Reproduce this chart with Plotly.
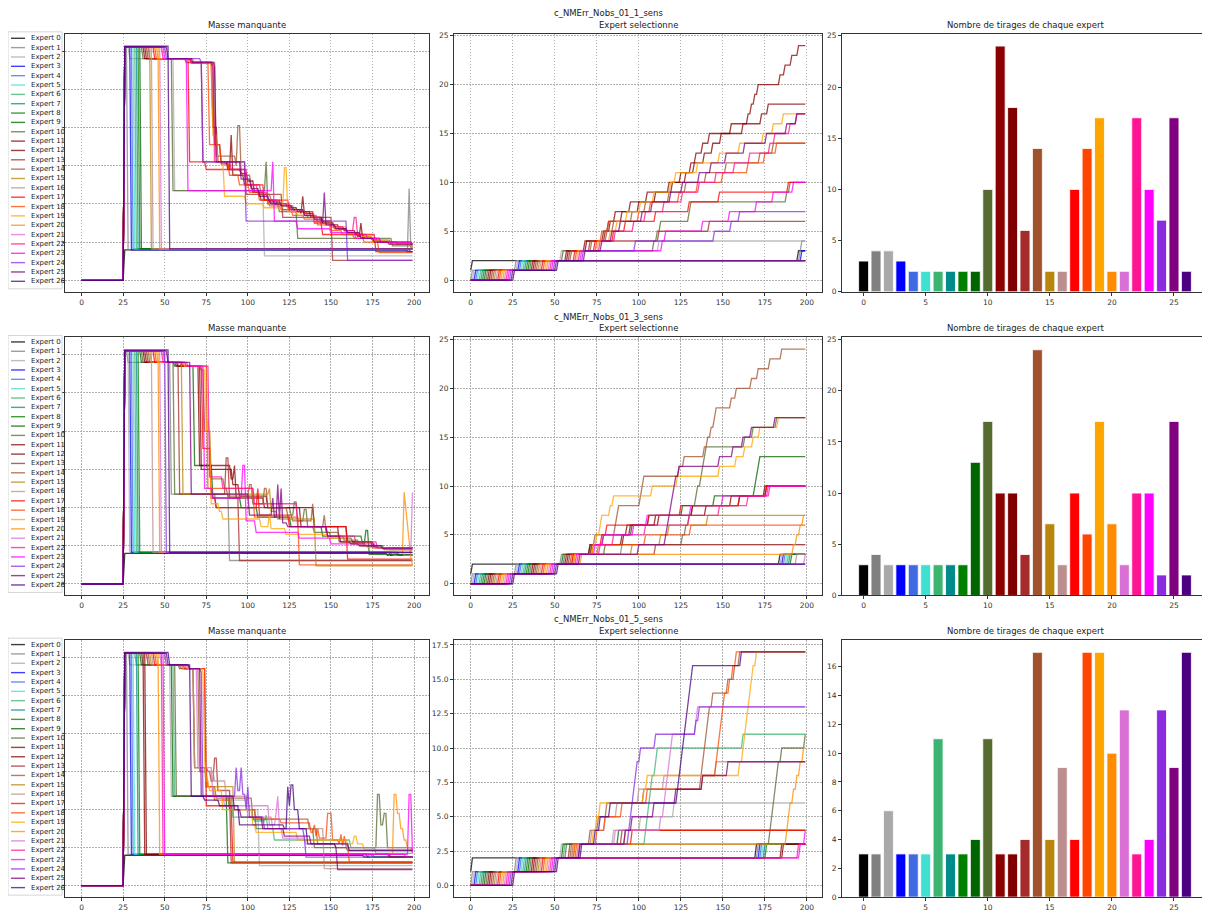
import numpy as np
import plotly.graph_objects as go

W, H = 1210, 918          # reference picture size
OFF = 8                   # page body margin of the browser
FIG_W, FIG_H = W - OFF, H - OFF
T_LAST = 199
N_EXP = 27
EXPERTS = [f"Expert {i}" for i in range(N_EXP)]
COLORS = ["#000000", "#808080", "#a9a9a9", "#0000ff", "#4169e1", "#40e0d0", "#3cb371",
          "#008b8b", "#008000", "#006400", "#556b2f", "#8b0000", "#800000", "#a52a2a",
          "#a0522d", "#b8860b", "#bc8f8f", "#ff0000", "#ff4500", "#ffa500", "#ff8c00",
          "#da70d6", "#ff1493", "#ff00ff", "#8a2be2", "#800080", "#4b0082"]
ROW_TITLES = ["c_NMErr_Nobs_01_1_sens", "c_NMErr_Nobs_01_3_sens", "c_NMErr_Nobs_01_5_sens"]
SUB_TITLES = ["Masse manquante", "Expert selectionne", "Nombre de tirages de chaque expert"]

# ---- bar chart: number of draws per expert ----
COUNTS_1 = [3, 4, 4, 3, 2, 2, 2, 2, 2, 2, 10, 24, 18, 6, 14, 2, 2, 10, 14, 17, 2, 2, 17, 10, 7, 17, 2]
COUNTS_2 = [3, 4, 3, 3, 3, 3, 3, 3, 3, 13, 17, 10, 10, 4, 24, 7, 3, 10, 6, 17, 7, 3, 10, 10, 2, 17, 2]
COUNTS_3 = [3, 3, 6, 3, 3, 3, 11, 3, 3, 4, 11, 3, 3, 4, 17, 4, 9, 4, 17, 17, 10, 13, 3, 4, 13, 9, 17]

# ---- times at which each expert was selected ----
PICKS_1 = [
    [0, 1, 195], [1, 27, 196, 197], [2, 28, 54, 112], [3, 29, 197],
    [4, 30], [5, 31], [6, 32], [7, 33], [8, 34], [9, 35],
    [10, 36, 55, 109, 111, 113, 130, 131, 188, 190],
    [11, 37, 57, 68, 79, 82, 86, 95, 105, 118, 128, 131, 134, 138, 142, 162, 165, 167, 169, 171, 184, 187, 191, 195],
    [12, 38, 58, 69, 80, 83, 90, 100, 110, 120, 125, 133, 139, 144, 149, 155, 173, 177],
    [13, 39, 59, 71, 112, 142],
    [14, 40, 60, 72, 81, 85, 96, 104, 118, 128, 140, 152, 172, 180],
    [15, 41], [16, 42],
    [17, 43, 62, 74, 85, 92, 110, 130, 148, 189],
    [18, 44, 63, 75, 78, 82, 100, 107, 124, 135, 150, 165, 175, 182],
    [19, 45, 64, 76, 83, 87, 93, 101, 109, 119, 122, 135, 148, 160, 174, 180, 186],
    [20, 46], [21, 47],
    [22, 48, 65, 77, 86, 97, 104, 115, 126, 136, 146, 157, 166, 178, 181, 190, 194],
    [23, 49, 66, 114, 116, 138, 154, 170, 180, 192],
    [24, 50, 67, 98, 145, 155, 160],
    [25, 51, 68, 78, 84, 89, 102, 108, 119, 126, 136, 143, 152, 163, 176, 188, 194],
    [26, 52],
]
PICKS_2 = [
    [0, 1, 184], [1, 27, 54, 90], [2, 28, 185], [3, 29, 186], [4, 30, 187], [5, 31, 188],
    [6, 32, 189], [7, 33, 190], [8, 34, 191],
    [9, 35, 55, 71, 79, 96, 106, 126, 145, 169, 170, 171, 172],
    [10, 36, 56, 80, 126, 128, 130, 132, 134, 135, 137, 138, 139, 140, 163, 168, 182],
    [11, 37, 57, 71, 90, 93, 110, 132, 155, 175],
    [12, 38, 58, 72, 91, 95, 112, 140, 160, 176],
    [13, 39, 59, 110],
    [14, 40, 60, 72, 74, 86, 87, 88, 101, 102, 103, 124, 127, 139, 141, 143, 145, 146, 155, 158, 167, 171, 178, 185],
    [15, 41, 61, 96, 113, 118, 141],
    [16, 42, 194],
    [17, 43, 61, 73, 78, 81, 106, 125, 160, 176],
    [18, 44, 62, 76, 104, 131],
    [19, 45, 62, 73, 75, 77, 78, 83, 85, 108, 123, 148, 158, 163, 168, 172, 183],
    [20, 46, 66, 192, 194, 196, 198],
    [21, 47, 199],
    [22, 48, 63, 77, 85, 104, 130, 148, 165, 178],
    [23, 49, 64, 74, 79, 97, 105, 131, 150, 177],
    [24, 50],
    [25, 51, 65, 100, 116, 117, 118, 119, 120, 121, 122, 124, 148, 156, 162, 167, 181],
    [26, 52],
]
PICKS_3 = [
    [0, 1, 170], [1, 27, 171], [2, 28, 54, 85, 101, 121], [3, 29, 172], [4, 30, 173], [5, 31, 174],
    [6, 32, 56, 104, 105, 106, 107, 108, 110, 111, 162],
    [7, 33, 175], [8, 34, 176], [9, 35, 55, 88],
    [10, 36, 57, 178, 179, 180, 181, 182, 183, 185, 199],
    [11, 37, 185], [12, 38, 186], [13, 39, 59, 90],
    [14, 40, 60, 71, 76, 81, 103, 137, 138, 139, 140, 141, 142, 144, 153, 157, 160],
    [15, 41, 61, 92],
    [16, 42, 61, 72, 80, 87, 100, 115, 146],
    [17, 43, 62, 96],
    [18, 44, 63, 75, 80, 90, 105, 138, 146, 147, 148, 149, 150, 151, 154, 156, 158],
    [19, 45, 64, 73, 75, 77, 103, 105, 160, 162, 163, 164, 165, 166, 167, 168, 170],
    [20, 46, 62, 188, 189, 190, 192, 194, 196, 198],
    [21, 47, 64, 86, 113, 115, 116, 117, 118, 119, 120, 134, 135],
    [22, 48, 195], [23, 49, 196, 199],
    [24, 50, 65, 94, 95, 96, 97, 98, 99, 101, 110, 134, 136],
    [25, 51, 65, 92, 96, 109, 122, 138, 153],
    [26, 52, 66, 74, 77, 83, 123, 124, 125, 126, 127, 128, 129, 130, 131, 132, 161],
]

# ---- missing mass: [time, value] at which each curve changes level ----
MASS_1 = [
    [[0, 0], [26, 0.16], [196, 0.15], [199, 0.15]],
    [[0, 0], [26, 1.22], [28, 0.16], [197, 0.48], [198, 0.17], [199, 0.17]],
    [[0, 0], [26, 1.22], [29, 1.16], [56, 0.47], [110, 0.128], [199, 0.128]],
    [[0, 0], [26, 1.22], [30, 0.16], [198, 0.15], [199, 0.15]],
    [[0, 0], [26, 1.22], [31, 0.165], [199, 0.165]],
    [[0, 0], [26, 1.22], [32, 0.165], [199, 0.165]],
    [[0, 0], [26, 1.22], [33, 0.165], [199, 0.165]],
    [[0, 0], [26, 1.22], [34, 0.165], [199, 0.165]],
    [[0, 0], [26, 1.22], [35, 0.165], [199, 0.165]],
    [[0, 0], [26, 1.22], [36, 0.165], [199, 0.165]],
    [[0, 0], [26, 1.22], [37, 1.16], [55, 0.47], [111, 0.62], [112, 0.4], [119, 0.36], [130, 0.22], [187, 0.18], [199, 0.18]],
    [[0, 0], [26, 1.22], [38, 1.16], [66, 1.14], [79, 1.12], [80, 0.71], [84, 0.61], [89, 0.58], [90, 0.76], [91, 0.55],
     [98, 0.5], [103, 0.46], [108, 0.42], [114, 0.4], [121, 0.37], [132, 0.35], [133, 0.44], [134, 0.35], [140, 0.33],
     [145, 0.31], [150, 0.29], [155, 0.27], [160, 0.25], [166, 0.23], [168, 0.3], [169, 0.22], [175, 0.21], [180, 0.2],
     [190, 0.19], [199, 0.19]],
    [[0, 0], [26, 1.22], [39, 1.16], [66, 1.14], [79, 0.8], [82, 0.62], [88, 0.58], [96, 0.56], [100, 0.52], [104, 0.46],
     [110, 0.42], [116, 0.4], [124, 0.38], [130, 0.36], [138, 0.33], [145, 0.3], [152, 0.28], [158, 0.26], [165, 0.24],
     [170, 0.22], [178, 0.2], [199, 0.19]],
    [[0, 0], [26, 1.22], [40, 1.16], [63, 1.14], [73, 0.62], [99, 0.45], [121, 0.33], [151, 0.105], [199, 0.105]],
    [[0, 0], [26, 1.22], [41, 1.16], [66, 1.14], [81, 0.65], [93, 0.6], [94, 0.81], [96, 0.55], [102, 0.5], [108, 0.45],
     [114, 0.42], [120, 0.39], [128, 0.36], [136, 0.33], [144, 0.3], [152, 0.27], [160, 0.25], [167, 0.23], [175, 0.21],
     [186, 0.19], [199, 0.17]],
    [[0, 0], [26, 1.22], [42, 0.165], [199, 0.165]],
    [[0, 0], [26, 1.22], [43, 0.165], [199, 0.165]],
    [[0, 0], [26, 1.22], [44, 1.16], [65, 0.62], [75, 0.58], [99, 0.5], [110, 0.42], [125, 0.36], [140, 0.3], [145, 0.24],
     [177, 0.15], [199, 0.15]],
    [[0, 0], [26, 1.22], [45, 1.16], [66, 1.14], [77, 0.71], [84, 0.62], [89, 0.55], [95, 0.5], [101, 0.46], [107, 0.42],
     [113, 0.39], [120, 0.37], [127, 0.34], [134, 0.32], [142, 0.29], [150, 0.26], [157, 0.24], [164, 0.22], [170, 0.2],
     [179, 0.145], [199, 0.145]],
    [[0, 0], [26, 1.22], [46, 1.16], [68, 1.14], [78, 1.12], [79, 0.76], [82, 0.62], [86, 0.44], [99, 0.4], [110, 0.38],
     [122, 0.59], [124, 0.36], [130, 0.34], [140, 0.31], [150, 0.28], [160, 0.25], [168, 0.23], [175, 0.21], [185, 0.19],
     [199, 0.17]],
    [[0, 0], [26, 1.22], [47, 0.165], [199, 0.165]],
    [[0, 0], [26, 1.22], [48, 0.165], [199, 0.165]],
    [[0, 0], [26, 1.22], [49, 1.16], [66, 1.14], [79, 1.12], [80, 0.62], [90, 0.58], [100, 0.5], [106, 0.46], [112, 0.42],
     [118, 0.4], [126, 0.37], [134, 0.34], [142, 0.31], [150, 0.28], [158, 0.26], [164, 0.33], [166, 0.24], [172, 0.22],
     [180, 0.2], [199, 0.185]],
    [[0, 0], [26, 1.22], [50, 1.16], [64, 0.47], [115, 0.62], [116, 0.31], [130, 0.27], [150, 0.25], [165, 0.22], [180, 0.2],
     [199, 0.19]],
    [[0, 0], [26, 1.22], [51, 1.16], [72, 1.14], [73, 0.62], [99, 0.31], [160, 0.105], [199, 0.105]],
    [[0, 0], [26, 1.22], [52, 1.16], [67, 1.14], [80, 1.12], [81, 0.62], [96, 0.53], [102, 0.48], [107, 0.44], [113, 0.41],
     [120, 0.39], [127, 0.37], [134, 0.34], [140, 0.32], [145, 0.3], [146, 0.46], [147, 0.29], [153, 0.27], [160, 0.25],
     [168, 0.22], [176, 0.2], [185, 0.19], [199, 0.185]],
    [[0, 0], [26, 1.225], [53, 0.165], [199, 0.165]],
]
MASS_2 = [
    [[0, 0], [26, 0.16], [184, 0.15], [199, 0.15]],
    [[0, 0], [26, 1.22], [28, 1.16], [54, 0.47], [89, 0.123], [199, 0.123]],
    [[0, 0], [26, 1.22], [29, 0.165], [185, 0.15], [199, 0.15]],
    [[0, 0], [26, 1.22], [30, 0.165], [186, 0.15], [199, 0.15]],
    [[0, 0], [26, 1.22], [31, 0.165], [187, 0.15], [199, 0.15]],
    [[0, 0], [26, 1.22], [32, 0.165], [188, 0.15], [199, 0.15]],
    [[0, 0], [26, 1.22], [33, 0.165], [189, 0.15], [199, 0.15]],
    [[0, 0], [26, 1.22], [34, 0.165], [190, 0.15], [199, 0.15]],
    [[0, 0], [26, 1.22], [35, 0.165], [191, 0.15], [199, 0.15]],
    [[0, 0], [26, 1.22], [36, 1.16], [56, 1.14], [68, 0.62], [79, 0.45], [96, 0.4], [106, 0.35], [126, 0.3], [145, 0.25],
     [169, 0.21], [171, 0.28], [173, 0.155], [199, 0.155]],
    [[0, 0], [26, 1.22], [37, 1.16], [56, 0.47], [81, 0.4], [126, 0.36], [128, 0.43], [130, 0.33], [134, 0.39], [136, 0.3],
     [140, 0.27], [150, 0.24], [163, 0.22], [168, 0.2], [182, 0.18], [199, 0.18]],
    [[0, 0], [26, 1.22], [38, 1.16], [57, 1.14], [71, 0.62], [90, 0.55], [92, 0.62], [93, 0.45], [110, 0.4], [132, 0.3],
     [155, 0.22], [175, 0.19], [199, 0.19]],
    [[0, 0], [26, 1.22], [39, 1.16], [58, 1.14], [72, 0.6], [91, 0.52], [95, 0.46], [112, 0.4], [140, 0.3], [160, 0.22],
     [176, 0.19], [199, 0.19]],
    [[0, 0], [26, 1.22], [40, 1.16], [59, 0.47], [87, 0.66], [89, 0.45], [95, 0.123], [199, 0.123]],
    [[0, 0], [26, 1.22], [41, 1.16], [60, 1.14], [72, 1.12], [74, 0.8], [78, 0.55], [86, 0.5], [88, 0.46], [101, 0.52],
     [103, 0.42], [110, 0.5], [112, 0.4], [124, 0.36], [127, 0.33], [139, 0.42], [140, 0.3], [146, 0.36], [147, 0.27],
     [155, 0.25], [158, 0.23], [167, 0.21], [171, 0.2], [178, 0.19], [185, 0.18], [199, 0.18]],
    [[0, 0], [26, 1.22], [42, 1.16], [61, 0.47], [113, 0.5], [114, 0.38], [118, 0.34], [141, 0.095], [199, 0.095]],
    [[0, 0], [26, 1.22], [43, 0.165], [194, 0.15], [199, 0.15]],
    [[0, 0], [26, 1.22], [44, 1.16], [61, 1.14], [73, 0.71], [78, 0.45], [81, 0.4], [106, 0.5], [107, 0.36], [125, 0.3],
     [160, 0.13], [199, 0.13]],
    [[0, 0], [26, 1.22], [45, 1.16], [62, 1.14], [76, 0.5], [104, 0.35], [131, 0.1], [199, 0.1]],
    [[0, 0], [26, 1.22], [46, 1.16], [62, 1.14], [73, 1.12], [75, 0.8], [76, 0.86], [77, 0.78], [78, 0.42], [83, 0.38],
     [85, 0.34], [108, 0.3], [113, 0.37], [114, 0.29], [123, 0.26], [148, 0.24], [158, 0.22], [163, 0.21], [168, 0.2],
     [172, 0.19], [183, 0.18], [199, 0.18]],
    [[0, 0], [26, 1.22], [47, 0.165], [194, 0.48], [195, 0.4], [196, 0.3], [197, 0.22], [198, 0.14], [199, 0.1]],
    [[0, 0], [26, 1.22], [48, 0.165], [199, 0.48]],
    [[0, 0], [26, 1.22], [49, 1.16], [63, 1.14], [77, 0.56], [85, 0.5], [104, 0.42], [130, 0.3], [148, 0.25], [165, 0.22],
     [178, 0.19], [199, 0.19]],
    [[0, 0], [26, 1.22], [50, 1.16], [64, 1.14], [74, 0.5], [79, 0.45], [97, 0.62], [99, 0.33], [105, 0.27], [131, 0.24],
     [150, 0.21], [177, 0.19], [199, 0.19]],
    [[0, 0], [26, 1.22], [51, 0.165], [199, 0.165]],
    [[0, 0], [26, 1.22], [52, 1.16], [66, 0.47], [101, 0.36], [115, 0.45], [116, 0.35], [118, 0.52], [119, 0.34], [120, 0.5],
     [121, 0.32], [124, 0.3], [148, 0.25], [156, 0.22], [162, 0.21], [167, 0.2], [181, 0.185], [199, 0.185]],
    [[0, 0], [26, 1.225], [53, 0.165], [199, 0.165]],
]
MASS_3 = [
    [[0, 0], [26, 0.16], [170, 0.15], [199, 0.15]],
    [[0, 0], [26, 1.22], [28, 0.165], [171, 0.15], [199, 0.15]],
    [[0, 0], [26, 1.22], [29, 1.16], [54, 0.47], [85, 0.45], [101, 0.4], [107, 0.105], [199, 0.105]],
    [[0, 0], [26, 1.22], [30, 0.165], [172, 0.15], [199, 0.15]],
    [[0, 0], [26, 1.22], [31, 0.165], [173, 0.15], [199, 0.15]],
    [[0, 0], [26, 1.22], [32, 0.165], [174, 0.15], [199, 0.15]],
    [[0, 0], [26, 1.22], [33, 1.16], [56, 0.47], [91, 0.36], [104, 0.34], [111, 0.37], [112, 0.3], [116, 0.24], [162, 0.2],
     [177, 0.17], [199, 0.17]],
    [[0, 0], [26, 1.22], [34, 0.165], [175, 0.15], [199, 0.15]],
    [[0, 0], [26, 1.22], [35, 0.165], [176, 0.15], [199, 0.15]],
    [[0, 0], [26, 1.22], [36, 1.16], [55, 0.47], [88, 0.12], [199, 0.12]],
    [[0, 0], [26, 1.22], [37, 1.16], [57, 0.47], [89, 0.4], [105, 0.3], [140, 0.2], [178, 0.48], [180, 0.32], [182, 0.38],
     [184, 0.2], [199, 0.18]],
    [[0, 0], [26, 1.22], [38, 0.165], [185, 0.15], [199, 0.15]],
    [[0, 0], [26, 1.22], [39, 0.165], [186, 0.15], [199, 0.15]],
    [[0, 0], [26, 1.22], [40, 1.16], [59, 1.14], [68, 0.62], [76, 0.6], [78, 0.55], [80, 0.67], [82, 0.5], [90, 0.12], [199, 0.12]],
    [[0, 0], [26, 1.22], [41, 1.16], [60, 1.14], [71, 0.6], [76, 0.52], [81, 0.46], [103, 0.35], [137, 0.3], [142, 0.22],
     [153, 0.2], [160, 0.185], [199, 0.185]],
    [[0, 0], [26, 1.22], [42, 1.16], [61, 1.14], [68, 0.62], [75, 0.52], [92, 0.12], [199, 0.12]],
    [[0, 0], [26, 1.22], [43, 1.16], [61, 1.14], [68, 0.62], [72, 0.6], [80, 0.55], [87, 0.47], [100, 0.36], [115, 0.3],
     [146, 0.09], [199, 0.09]],
    [[0, 0], [26, 1.22], [44, 1.16], [62, 1.14], [75, 0.42], [91, 0.125], [199, 0.125]],
    [[0, 0], [26, 1.22], [45, 1.16], [63, 1.14], [75, 0.52], [80, 0.45], [90, 0.4], [105, 0.35], [120, 0.33], [138, 0.28],
     [140, 0.32], [141, 0.26], [142, 0.3], [143, 0.25], [148, 0.38], [151, 0.24], [155, 0.22], [156, 0.27], [157, 0.21],
     [158, 0.26], [159, 0.21], [161, 0.125], [199, 0.125]],
    [[0, 0], [26, 1.22], [46, 1.16], [64, 1.14], [73, 1.12], [74, 0.66], [75, 0.55], [77, 0.5], [85, 0.4], [103, 0.32],
     [105, 0.28], [130, 0.24], [160, 0.22], [164, 0.26], [166, 0.22], [170, 0.19], [199, 0.185]],
    [[0, 0], [26, 1.22], [47, 0.165], [188, 0.48], [190, 0.38], [192, 0.3], [194, 0.24], [196, 0.2], [199, 0.18]],
    [[0, 0], [26, 1.22], [48, 1.16], [64, 1.14], [70, 0.62], [79, 0.47], [86, 0.42], [113, 0.32], [117, 0.38], [118, 0.47],
     [119, 0.3], [121, 0.25], [135, 0.22], [160, 0.2], [199, 0.19]],
    [[0, 0], [26, 1.22], [49, 0.165], [195, 0.15], [199, 0.15]],
    [[0, 0], [26, 1.22], [50, 0.165], [197, 0.48], [199, 0.17]],
    [[0, 0], [26, 1.22], [51, 1.16], [65, 1.14], [72, 1.12], [73, 0.47], [93, 0.62], [94, 0.5], [96, 0.62], [97, 0.48],
     [99, 0.4], [100, 0.52], [101, 0.36], [110, 0.3], [134, 0.25], [135, 0.15], [199, 0.15]],
    [[0, 0], [26, 1.22], [52, 1.16], [65, 1.14], [72, 0.47], [92, 0.4], [96, 0.36], [109, 0.3], [122, 0.26], [138, 0.22],
     [153, 0.2], [154, 0.085], [199, 0.085]],
    [[0, 0], [26, 1.225], [53, 1.16], [66, 0.47], [74, 0.45], [83, 0.42], [95, 0.32], [122, 0.3], [124, 0.52], [125, 0.42],
     [126, 0.53], [128, 0.4], [131, 0.3], [136, 0.22], [161, 0.185], [199, 0.185]],
]

MASS = [MASS_1, MASS_2, MASS_3]
PICKS = [PICKS_1, PICKS_2, PICKS_3]
COUNTS = [COUNTS_1, COUNTS_2, COUNTS_3]

# ---------------- layout geometry (pixels of the reference picture) ----------------
COL_PX = [(65, 429), (454, 822), (842, 1208)]
ROW_PX = [(32, 292), (338, 598), (643, 902)]


def px_x(p):
    return (p - OFF) / FIG_W


def px_y(p):
    return 1 - (p - OFF) / FIG_H


def step_values(bp):
    bt = np.array([p[0] for p in bp])
    bv = np.array([p[1] for p in bp], dtype=float)
    t = np.arange(T_LAST + 1)
    return t, bv[np.searchsorted(bt, t, side="right") - 1]


def pick_counts(times):
    t = np.arange(T_LAST + 1)
    return t, np.searchsorted(np.sort(np.array(times)), t, side="right")


fig = go.Figure()
FONT = "DejaVu Sans"
AX_COL = "#333333"
layout = dict(width=FIG_W, height=FIG_H, autosize=False, margin=dict(l=0, r=0, t=0, b=0),
              paper_bgcolor="white", plot_bgcolor="white", showlegend=False,
              font=dict(family=FONT, size=8, color="#222"))
annotations = []
shapes = []

for r in range(3):
    for c in range(3):
        n = r * 3 + c + 1
        xa = "x" if n == 1 else f"x{n}"
        ya = "y" if n == 1 else f"y{n}"
        if c == 0:
            for k in range(N_EXP):
                t, v = step_values(MASS[r][k])
                fig.add_trace(go.Scatter(x=t, y=v, mode="lines", xaxis=xa, yaxis=ya,
                                         line=dict(color=COLORS[k], width=1.3), opacity=0.75,
                                         name=EXPERTS[k], hoverinfo="skip"))
        elif c == 1:
            for k in range(N_EXP):
                t, v = pick_counts(PICKS[r][k])
                fig.add_trace(go.Scatter(x=t, y=v, mode="lines", xaxis=xa, yaxis=ya,
                                         line=dict(color=COLORS[k], width=1.3), opacity=0.75,
                                         name=EXPERTS[k], hoverinfo="skip"))
        else:
            fig.add_trace(go.Bar(x=list(range(N_EXP)), y=COUNTS[r], xaxis=xa, yaxis=ya,
                                 marker=dict(color=COLORS, line=dict(color="white", width=0.8)),
                                 width=0.8, hoverinfo="skip"))

        x0, x1 = COL_PX[c]
        y0, y1 = ROW_PX[r]
        common = dict(showline=True, mirror=True, linecolor=AX_COL, linewidth=0.9,
                      ticks="outside", ticklen=3, tickwidth=0.8, tickcolor=AX_COL,
                      tickfont=dict(family=FONT, size=7.5, color="#333"), zeroline=False)
        xd = dict(common, domain=[px_x(x0), px_x(x1)], anchor=ya)
        yd = dict(common, domain=[px_y(y1), px_y(y0)], anchor=xa)
        if c < 2:
            grid = dict(showgrid=True, gridcolor="#b0b0b0", griddash="1.5px,1.5px", gridwidth=0.8)
            xd.update(grid, range=[-9.95, 208.95], tickmode="array", tickvals=list(range(0, 201, 25)))
            yd.update(grid)
            if c == 0:
                yd.update(range=[-0.06, 1.29], tickmode="array",
                          tickvals=[0, 0.2, 0.4, 0.6, 0.8, 1.0, 1.2],
                          ticktext=["0.0", "0.2", "0.4", "0.6", "0.8", "1.0", "1.2"],
                          tickfont=dict(family=FONT, size=7.5, color="#666"))
            elif r < 2:
                yd.update(range=[-1.2, 25.2], tickmode="array", tickvals=list(range(0, 26, 5)))
            else:
                yd.update(range=[-0.85, 17.85], tickmode="array",
                          tickvals=[0, 2.5, 5, 7.5, 10, 12.5, 15, 17.5],
                          ticktext=["0.0", "2.5", "5.0", "7.5", "10.0", "12.5", "15.0", "17.5"])
        else:
            xd.update(showgrid=False, range=[-1.74, 27.74], tickmode="array", tickvals=list(range(0, 26, 5)))
            yd.update(showgrid=False)
            if r < 2:
                yd.update(range=[0, 25.2], tickmode="array", tickvals=list(range(0, 26, 5)))
            else:
                yd.update(range=[0, 17.85], tickmode="array", tickvals=list(range(0, 17, 2)))
        layout["xaxis" if n == 1 else f"xaxis{n}"] = xd
        layout["yaxis" if n == 1 else f"yaxis{n}"] = yd

        annotations.append(dict(text=SUB_TITLES[c], x=px_x((x0 + x1) / 2), y=px_y(y0 - 2),
                                xref="paper", yref="paper", xanchor="center", yanchor="bottom",
                                showarrow=False, font=dict(family=FONT, size=8.5, color="#222")))

    # row title
    annotations.append(dict(text=ROW_TITLES[r], x=px_x(608), y=px_y(ROW_PX[r][0] - 21),
                            xref="paper", yref="paper", xanchor="center", yanchor="middle",
                            showarrow=False, font=dict(family=FONT, size=8.5, color="#222")))

    # legend (drawn as box + samples + text)
    top = ROW_PX[r][0] - 2
    shapes.append(dict(type="rect", xref="paper", yref="paper", layer="above",
                       x0=px_x(8), x1=px_x(62), y0=px_y(top + 259), y1=px_y(top),
                       fillcolor="rgba(255,255,255,0.85)", line=dict(color="#cccccc", width=0.8)))
    for k in range(N_EXP):
        yc = top + 6.5 + k * 9.42
        shapes.append(dict(type="line", xref="paper", yref="paper", layer="above",
                           x0=px_x(11), x1=px_x(25), y0=px_y(yc), y1=px_y(yc),
                           line=dict(color=COLORS[k], width=1.4), opacity=0.75))
        annotations.append(dict(text=EXPERTS[k], x=px_x(29), y=px_y(yc), xref="paper", yref="paper",
                                xanchor="left", yanchor="middle", showarrow=False,
                                font=dict(family=FONT, size=7, color="#222")))

layout["annotations"] = annotations
layout["shapes"] = shapes
fig.update_layout(**layout)
fig.write_html("out.html")
